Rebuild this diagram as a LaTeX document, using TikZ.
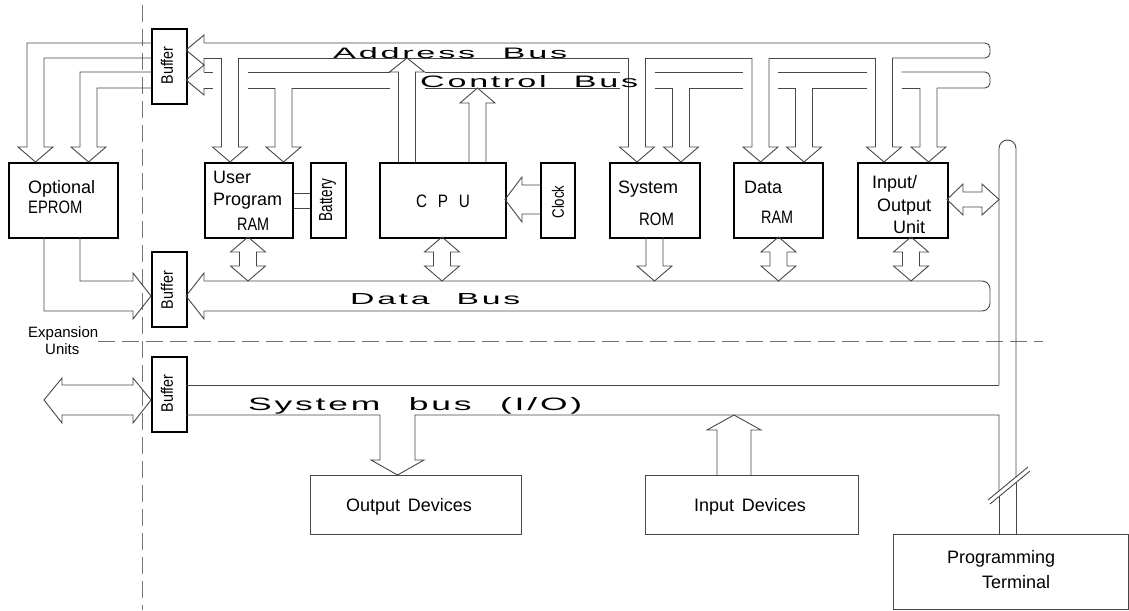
\documentclass[tikz,border=0pt]{standalone}
\usepackage{fontspec}
\setmainfont{Liberation Sans}
\newfontfamily\busfont{Liberation Sans}[LetterSpace=8]
\usepackage{graphicx}
\newcommand\buslab[3]{\resizebox{#1pt}{#2pt}{\busfont #3}}
% block arrow pointing down: centre x, top of left shaft, top of right shaft, tip y
\newcommand\arrdn[4]{\draw[ln] ({#1-8.5},#2) -- ({#1-8.5},{#4-15}) -- ({#1-17.5},{#4-15}) -- (#1,#4) -- ({#1+17.5},{#4-15}) -- ({#1+8.5},{#4-15}) -- ({#1+8.5},#3);}
% block arrow pointing up: centre x, tip y, head base y, bottom y
\newcommand\arrup[4]{\draw[ln] ({#1-8.5},#4) -- ({#1-8.5},#3) -- ({#1-17.5},#3) -- (#1,#2) -- ({#1+17.5},#3) -- ({#1+8.5},#3) -- ({#1+8.5},#4);}
% vertical double block arrow between box bottoms (237) and data bus (281)
\newcommand\arrdbl[1]{\draw[ln] (#1,237) -- ({#1-17.5},252) -- ({#1-8.5},252) -- ({#1-8.5},266) -- ({#1-17.5},266) -- (#1,281) -- ({#1+17.5},266) -- ({#1+8.5},266) -- ({#1+8.5},252) -- ({#1+17.5},252) -- cycle;}
\begin{document}
\begin{tikzpicture}[x=1pt,y=-1pt,
  ln/.style={draw=black!72, line width=0.9pt},
  box/.style={draw=black, line width=2.2pt, inner sep=0pt, anchor=north west},
  thinbox/.style={draw=black!72, line width=0.9pt, inner sep=0pt, anchor=north west},
  dashln/.style={draw=black!55, line width=1pt, dash pattern=on 17pt off 7pt},
  txt/.style={inner sep=0pt, anchor=base west, font=\fontsize{18pt}{20pt}\selectfont},
  stxt/.style={inner sep=0pt, anchor=base west, font=\fontsize{15pt}{17pt}\selectfont},
  vtxt/.style={inner sep=0pt, rotate=90},
  blab/.style={inner sep=0pt, anchor=base west}]
\useasboundingbox (0,0) rectangle (1129,610);
\fill[white] (0,0) rectangle (1129,610);

% dashed boundaries
\draw[dashln] (142,5) -- (142,610);
\draw[dashln] (98,341) -- (1043,341);

% ---------- boxes ----------
\node[box, minimum width=109pt, minimum height=75pt] (eprom) at (8,162) {};
\node[box, minimum width=35pt, minimum height=75pt] (bufA) at (151,28) {};
\node[box, minimum width=35pt, minimum height=75pt] (bufD) at (151,251) {};
\node[box, minimum width=35pt, minimum height=75pt] (bufS) at (151,356) {};
\node[box, minimum width=88pt, minimum height=75pt] (ram) at (204,162) {};
\node[box, minimum width=35pt, minimum height=75pt] (batt) at (310,162) {};
\node[box, minimum width=126pt, minimum height=75pt] (cpu) at (379,162) {};
\node[box, minimum width=34pt, minimum height=75pt] (clock) at (540,162) {};
\node[box, minimum width=90pt, minimum height=75pt] (rom) at (609,162) {};
\node[box, minimum width=89pt, minimum height=75pt] (dram) at (733,162) {};
\node[box, minimum width=90pt, minimum height=75pt] (io) at (857,162) {};
\node[thinbox, minimum width=211pt, minimum height=59pt] (outdev) at (310,475) {};
\node[thinbox, minimum width=213pt, minimum height=59pt] (indev) at (645,475) {};
\node[thinbox, minimum width=235pt, minimum height=75pt] (term) at (893,534) {};

% ---------- address bus ----------
\draw[ln, rounded corners=5pt] (204,43) -- (990,43) -- (990,58) -- (892.5,58);
\draw[ln] (204,58) -- (221.5,58) (238.5,58) -- (628.5,58) (645.5,58) -- (752,58) (769,58) -- (875.5,58);
% ---------- control bus ----------
\draw[ln, rounded corners=5pt] (901.5,72) -- (990,72) -- (990,88) -- (937,88);
\draw[ln] (204,72) -- (212.5,72) (247.5,72) -- (389.5,72) (424.5,72) -- (619.5,72)
          (654.5,72) -- (743,72) (778,72) -- (866.5,72);
\draw[ln] (204,88) -- (212.5,88) (247.5,88) -- (275,88) (292,88) -- (389.5,88)
          (424.5,88) -- (619.5,88) (654.5,88) -- (672.5,88) (689.5,88) -- (743,88)
          (778,88) -- (795.5,88) (812.5,88) -- (866.5,88) (901.5,88) -- (920,88);
% heads into the upper buffer
\draw[ln] (204,43) -- (204,35) -- (186,50) -- (204,65) -- (204,58);
\draw[ln] (204,72) -- (204,65) -- (186,80) -- (204,95) -- (204,88);
% buffer to optional EPROM
\draw[ln] (151,43) -- (27,43) -- (27,147) -- (18,147) -- (35.5,162) -- (53,147) -- (44,147) -- (44,58) -- (151,58);
\draw[ln] (151,72) -- (80,72) -- (80,147) -- (71,147) -- (88.5,162) -- (106,147) -- (97,147) -- (97,88) -- (151,88);
% bus taps down into the boxes
\arrdn{230}{58}{58}{162}
\arrdn{283.5}{88}{88}{162}
\arrdn{637}{58}{58}{162}
\arrdn{681}{88}{88}{162}
\arrdn{760.5}{58}{58}{162}
\arrdn{804}{88}{88}{162}
\arrdn{884}{58}{58}{162}
\arrdn{928.5}{88}{88}{162}
% CPU drives address and control bus
\arrup{407}{58}{72}{162}
\arrup{477.5}{88}{103}{162}

% battery link
\draw[ln] ([yshift=7.5pt]ram.east) -- ([yshift=7.5pt]batt.west);
\draw[ln] ([yshift=-7.5pt]ram.east) -- ([yshift=-7.5pt]batt.west);
% clock to CPU
\draw[ln] (540,185) -- (522,185) -- (522,177) -- (505,199.5) -- (522,222) -- (522,214) -- (540,214);

% ---------- data bus ----------
\draw[ln, rounded corners=8pt] (204,281) -- (990,281) -- (990,311) -- (204,311);
\draw[ln] (204,281) -- (204,273) -- (186,296) -- (204,319) -- (204,311);
\draw[ln] (80,237) -- (80,281) -- (133,281) -- (133,273) -- (151,296) -- (133,319) -- (133,311) -- (44,311) -- (44,237);
\arrdbl{248}
\arrdbl{442}
\arrdbl{778.5}
\arrdbl{911}
\draw[ln] (646,237) -- (646,266) -- (637,266) -- (654.5,281) -- (672,266) -- (663,266) -- (663,237);

% I/O unit to programming terminal bus
\draw[ln] (947,199.5) -- (963,184) -- (963,192) -- (982,192) -- (982,184) -- (999,199.5)
          -- (982,215) -- (982,207) -- (963,207) -- (963,215) -- cycle;
\draw[ln, rounded corners=8.5pt] (999,385) -- (999,140) -- (1016,140) -- (1016,477);
\draw[ln] (1016,482.5) -- (1016,534);
\draw[ln] (999,496.5) -- (999,534);
\draw[ln] (988,500) -- (1028,467);
\draw[ln] (990,504) -- (1030,471);

% ---------- system bus ----------
\draw[ln] (186,385) -- (999,385);
\draw[ln] (186,415) -- (380,415) -- (380,460) -- (371,460) -- (397.5,475) -- (424,460) -- (415,460) -- (415,415) -- (999,415) -- (999,491);
\draw[ln] (717,475) -- (717,430) -- (707,430) -- (734,415) -- (761,430) -- (751,430) -- (751,475);
\draw[ln] (44,400) -- (62,378) -- (62,385) -- (133,385) -- (133,378) -- (151,400) -- (133,423) -- (133,415) -- (62,415) -- (62,423) -- cycle;

% ---------- texts ----------
\node[txt] (tOpt) at (28,193) {Optional};
\node[txt] (tEprom) at (28,213) {\scalebox{0.82}[1]{EPROM}};
\node[txt] (tUser) at (213,183) {User};
\node[txt] (tProg) at (213,205) {Program};
\node[txt] (tRam) at (237,230) {\scalebox{0.8}[1]{RAM}};
\node[txt] (tCpu) at (416,207) {\scalebox{0.85}[1]{C\hspace{0.7em}P\hspace{0.7em}U}};
\node[txt] (tSys) at (618,193) {System};
\node[txt] (tRom) at (639,225) {\scalebox{0.83}[1]{ROM}};
\node[txt] (tData) at (744,193) {Data};
\node[txt] (tDram) at (761,223) {\scalebox{0.8}[1]{RAM}};
\node[txt] (tIn) at (872,188) {Input/};
\node[txt] (tOut) at (877,211) {Output};
\node[txt] (tUnit) at (893,233) {Unit};
\node[txt] (tOD) at (346,511) {Output\hspace{0.15em} Devices};
\node[txt] (tID) at (694,511) {Input\hspace{0.15em} Devices};
\node[txt] (tProgr) at (947,563) {Programming};
\node[txt] (tTerm) at (982,588) {Terminal};
\node[stxt] (tExp) at (28,337) {Expansion};
\node[stxt] (tUnits) at (45,354) {Units};

\node[vtxt] (tBufA) at (167,65.5) {\resizebox{38pt}{12pt}{Buffer}};
\node[vtxt] (tBufD) at (167,290) {\resizebox{38pt}{12pt}{Buffer}};
\node[vtxt] (tBufS) at (167,393.5) {\resizebox{38pt}{12pt}{Buffer}};
\node[vtxt] (tBatt) at (327.5,200) {\resizebox{43pt}{13pt}{Battery}};
\node[vtxt] (tClock) at (558,202) {\resizebox{33pt}{12pt}{Clock}};

\node[blab] (lAddr) at (333,58) {\buslab{234}{11}{Address\hspace{0.8em}Bus}};
\node[blab] (lCtrl) at (420,87) {\buslab{218}{12}{Control\hspace{0.8em}Bus}};
\node[blab] (lData) at (350,304) {\buslab{170}{11}{Data\hspace{0.8em}Bus}};
\node[blab] (lSys) at (248,410) {\buslab{334}{13}{System\hspace{0.8em}bus\hspace{0.8em}(I/O)}};
\end{tikzpicture}
\end{document}
